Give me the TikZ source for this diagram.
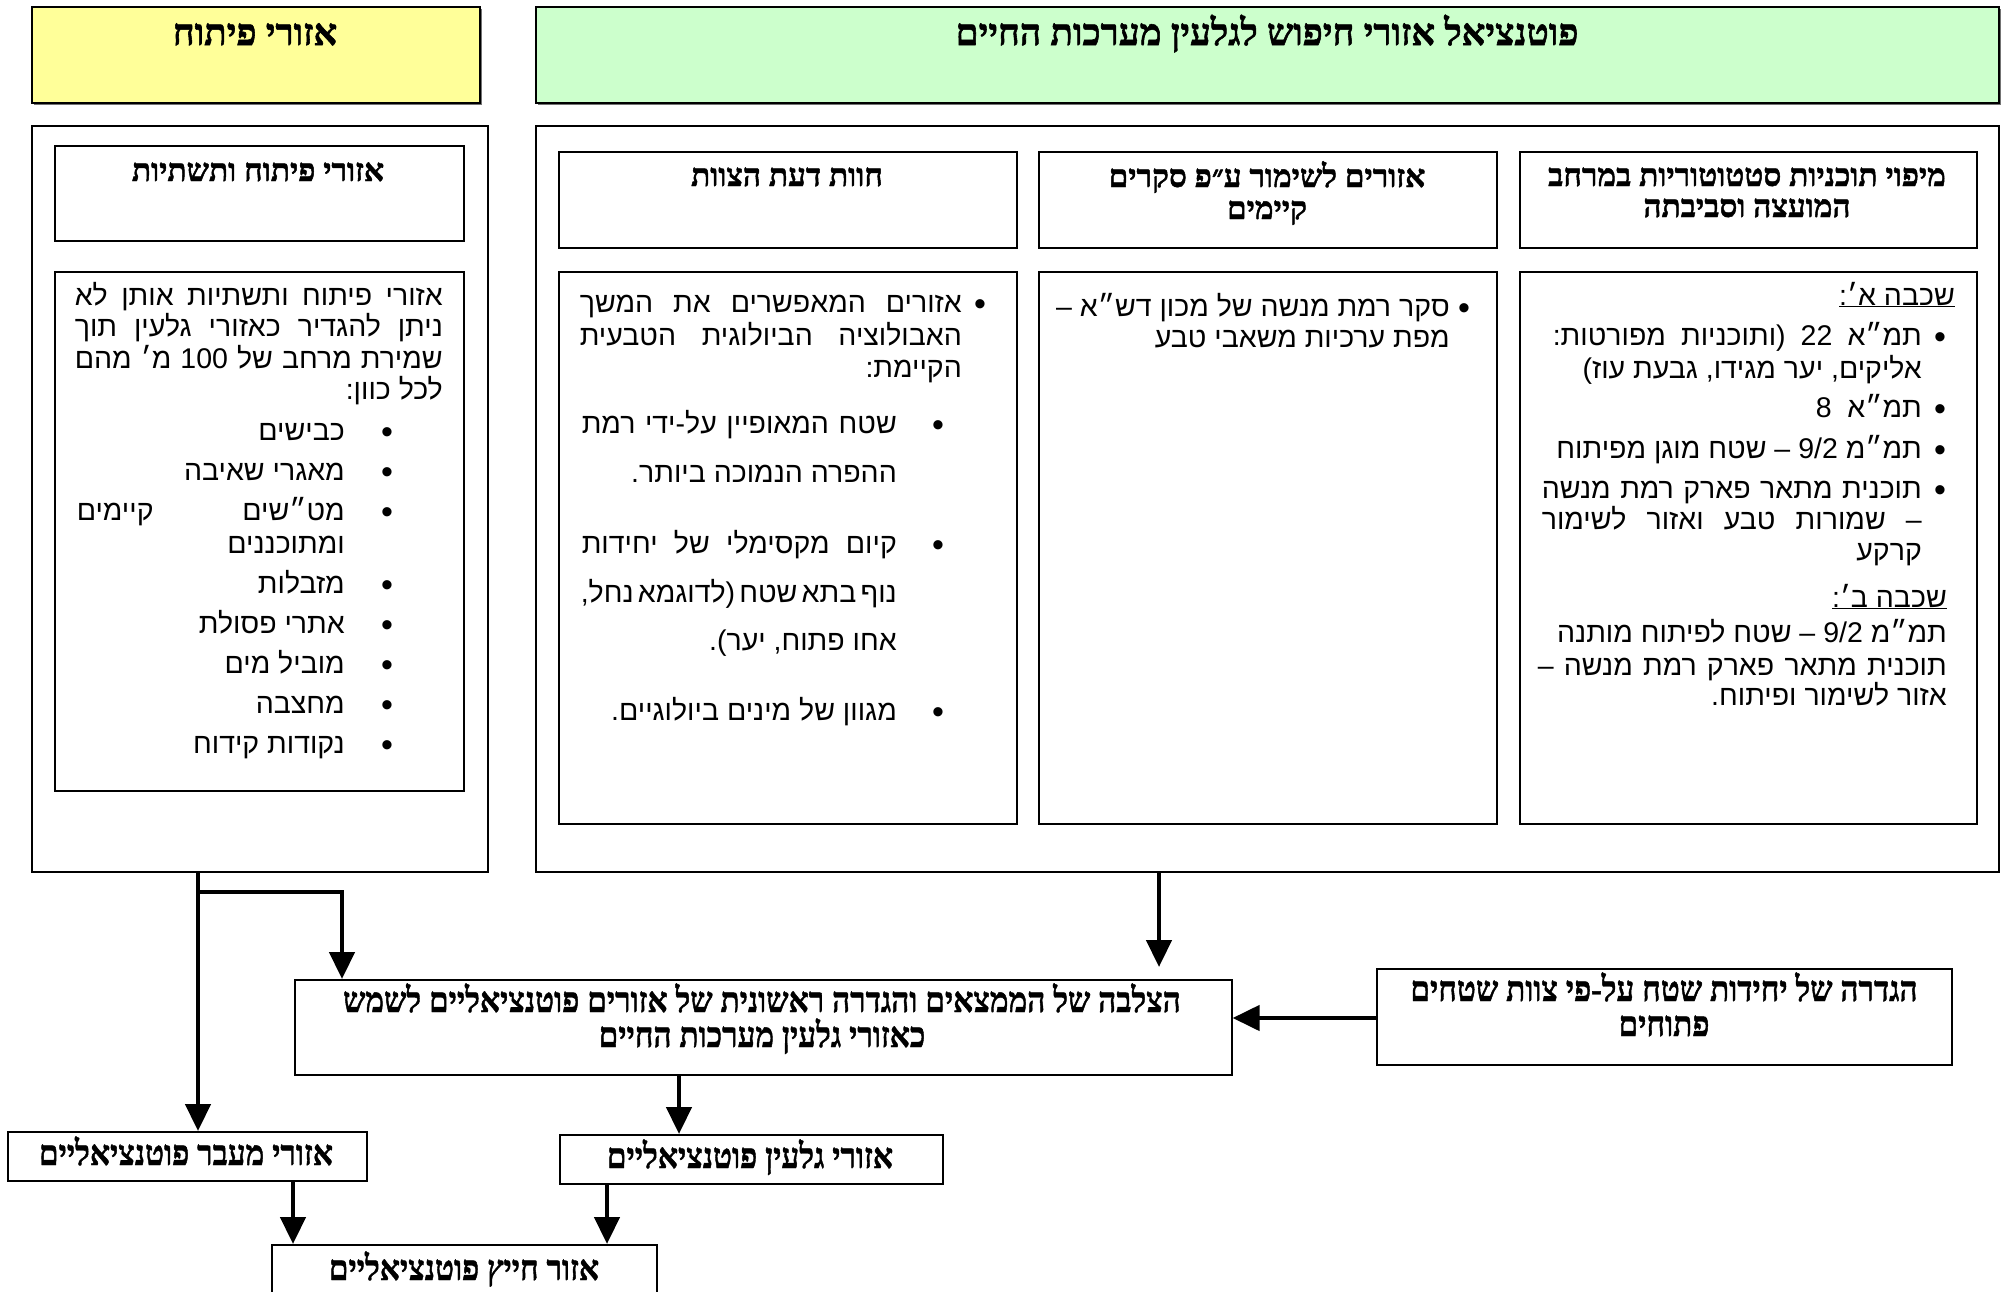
\documentclass[tikz,border=0pt]{standalone}
\usepackage{fontspec}
\usetikzlibrary{arrows.meta}
\TeXXeTstate=1
\newfontfamily\hs[Script=Hebrew]{Liberation Sans}
\newfontfamily\hsf[Script=Hebrew,FakeBold=1.5]{Liberation Serif}
\newfontfamily\hcf[Script=Hebrew,FakeStretch=0.9,FakeBold=1.2]{Liberation Serif}
\newcommand\bodyf{\hs\fontsize{28.5}{34}\selectfont}
\newcommand\bulf{\hs\fontsize{34}{40}\selectfont}
\newcommand\headf{\hsf\bfseries\fontsize{31.5}{37}\selectfont}
\newcommand\titf{\hsf\bfseries\fontsize{37}{44}\selectfont}
\newcommand\botf{\hcf\bfseries\fontsize{35}{40}\selectfont}
\definecolor{yelf}{HTML}{FFFF99}
\definecolor{grnf}{HTML}{CCFFCC}
\tikzset{
  bx/.style={draw, line width=1.6pt, inner sep=0pt, anchor=north west},
  shbx/.style={bx, fill=#1},
  tx/.style={inner sep=0pt, anchor=base east, font=\bodyf},
  bul/.style={inner sep=0pt, anchor=base, font=\bulf, yshift=-3pt},
  hd/.style={inner sep=0pt, anchor=base, font=\headf},
  ttl/.style={inner sep=0pt, anchor=base, font=\titf},
  bt/.style={inner sep=0pt, anchor=base, font=\botf},
  arr/.style={line width=4.5pt, -{Triangle[length=27pt,width=25pt]}},
}
\begin{document}
\begin{tikzpicture}[x=1pt,y=-1pt]
\useasboundingbox (0,0) rectangle (2006,1291);
\fill[white] (0,0) rectangle (2006,1291);
% shadows of the top boxes
\fill[black!55] (34,9) rectangle (482,105);
\fill[black!55] (538,9) rectangle (2001,105);
% top boxes
\node[shbx=yelf, minimum width=448pt, minimum height=96pt] (yel) at (31,6) {};
\node[shbx=grnf, minimum width=1463pt, minimum height=96pt] (grn) at (535,6) {};
\node[ttl] (yelt) at (255,45) {\beginR אזורי פיתוח\endR};
\node[ttl] (grnt) at (1267,45) {\beginR פוטנציאל אזורי חיפוש לגלעין מערכות החיים\endR};
% panels
\node[bx, minimum width=456pt, minimum height=746pt] (lp) at (31,125) {};
\node[bx, minimum width=1463pt, minimum height=746pt] (rp) at (535,125) {};
% left column
\node[bx, minimum width=409pt, minimum height=95pt] (lh) at (54,145) {};
\node[bx, minimum width=409pt, minimum height=519pt] (lc) at (54,271) {};
\node[hd] (lht) at (258,181) {\beginR אזורי פיתוח ותשתיות\endR};
\node[tx] (l1) at (443,305) {\hbox to 368pt{\beginR אזורי פיתוח ותשתיות אותן לא\endR}};
\node[tx] (l2) at (443,336) {\hbox to 368pt{\beginR ניתן להגדיר כאזורי גלעין תוך\endR}};
\node[tx] (l3) at (443,368) {\hbox to 368pt{\beginR שמירת מרחב של \beginL 100\endL{} מ׳ מהם\endR}};
\node[tx] (l4) at (443,399) {\beginR לכל כוון:\endR};
\node[tx] (l5) at (345,440) {\beginR כבישים\endR};
\node[tx] (l6) at (345,480) {\beginR מאגרי שאיבה\endR};
\node[tx] (l7) at (345,520) {\hbox to 268pt{\beginR מט״שים קיימים\endR}};
\node[tx] (l8) at (345,553) {\beginR ומתוכננים\endR};
\node[tx] (l9) at (345,593) {\beginR מזבלות\endR};
\node[tx] (l10) at (345,633) {\beginR אתרי פסולת\endR};
\node[tx] (l11) at (345,673) {\beginR מוביל מים\endR};
\node[tx] (l12) at (345,713) {\beginR מחצבה\endR};
\node[tx] (l13) at (345,753) {\beginR נקודות קידוח\endR};
\foreach \yy [count=\i] in {440,480,520,593,633,673,713,753}
  \node[bul] (lb\i) at (387,\yy) {•};
% right panel headers
\node[bx, minimum width=458pt, minimum height=96pt] (h1) at (558,151) {};
\node[bx, minimum width=458pt, minimum height=96pt] (h2) at (1038,151) {};
\node[bx, minimum width=457pt, minimum height=96pt] (h3) at (1519,151) {};
\node[hd] (h1t) at (787,186) {\beginR חוות דעת הצוות\endR};
\node[hd] (h2t1) at (1267,187) {\beginR אזורים לשימור ע״פ סקרים\endR};
\node[hd] (h2t2) at (1267,219) {\beginR קיימים\endR};
\node[hd] (h3t1) at (1747,186) {\beginR מיפוי תוכניות סטטוטוריות במרחב\endR};
\node[hd] (h3t2) at (1747,217) {\beginR המועצה וסביבתה\endR};
% right panel contents
\node[bx, minimum width=458pt, minimum height=552pt] (c1) at (558,271) {};
\node[bx, minimum width=458pt, minimum height=552pt] (c2) at (1038,271) {};
\node[bx, minimum width=457pt, minimum height=552pt] (c3) at (1519,271) {};
% column 1
\node[tx] (m1) at (962,312) {\hbox to 382pt{\beginR אזורים המאפשרים את המשך\endR}};
\node[tx] (m2) at (962,345) {\hbox to 382pt{\beginR האבולוציה הביולוגית הטבעית\endR}};
\node[tx] (m3) at (962,377) {\beginR הקיימת:\endR};
\node[tx] (m4) at (897,433) {\hbox to 315pt{\beginR שטח המאופיין על-ידי רמת\endR}};
\node[tx] (m5) at (897,482) {\beginR ההפרה הנמוכה ביותר.\endR};
\node[tx] (m6) at (897,553) {\hbox to 315pt{\beginR קיום מקסימלי של יחידות\endR}};
\node[tx] (m7) at (897,602) {\hbox to 316pt{\spaceskip=0.1em plus 1em\beginR נוף בתא שטח (לדוגמא נחל,\endR}};
\node[tx] (m8) at (897,650) {\beginR אחו פתוח, יער).\endR};
\node[tx] (m9) at (897,720) {\beginR מגוון של מינים ביולוגיים.\endR};
\node[bul] (mb1) at (980,312) {•};
\node[bul] (mb2) at (938,433) {•};
\node[bul] (mb3) at (938,553) {•};
\node[bul] (mb4) at (938,720) {•};
% column 2
\node[tx] (n1) at (1450,316) {\beginR סקר רמת מנשה של מכון דש״א –\endR};
\node[tx] (n2) at (1450,347) {\beginR מפת ערכיות משאבי טבע\endR};
\node[bul] (nb1) at (1464,316) {•};
% column 3
\node[tx] (r0) at (1955,305) {\underline{\beginR שכבה א׳:\endR}};
\node[tx] (r1) at (1922,345) {\hbox to 369pt{\beginR תמ״א \beginL 22\endL{} (ותוכניות מפורטות:\endR}};
\node[tx] (r2) at (1922,378) {\beginR אליקים, יער מגידו, גבעת עוז)\endR};
\node[tx] (r3) at (1922,417) {\beginR תמ״א\ \ \beginL 8\endL\endR};
\node[tx] (r4) at (1922,458) {\beginR תמ״מ \beginL 9/2\endL{} – שטח מוגן מפיתוח\endR};
\node[tx] (r5) at (1922,498) {\hbox to 380pt{\beginR תוכנית מתאר פארק רמת מנשה\endR}};
\node[tx] (r6) at (1922,529) {\hbox to 380pt{\beginR – שמורות טבע ואזור לשימור\endR}};
\node[tx] (r7) at (1922,560) {\beginR קרקע\endR};
\node[tx] (r8) at (1947,607) {\underline{\beginR שכבה ב׳:\endR}};
\node[tx] (r9) at (1947,642) {\beginR תמ״מ \beginL 9/2\endL{} – שטח לפיתוח מותנה\endR};
\node[tx] (r10) at (1947,675) {\hbox to 409pt{\beginR תוכנית מתאר פארק רמת מנשה –\endR}};
\node[tx] (r11) at (1947,705) {\beginR אזור לשימור ופיתוח.\endR};
\foreach \yy [count=\i] in {345,417,458,498}
  \node[bul] (rb\i) at (1940,\yy) {•};
% bottom boxes
\node[bx, minimum width=937pt, minimum height=95pt] (cross) at (294,979) {};
\node[bx, minimum width=575pt, minimum height=96pt] (defn) at (1376,968) {};
\node[bx, minimum width=359pt, minimum height=49pt] (mavar) at (7,1131) {};
\node[bx, minimum width=383pt, minimum height=49pt] (galin) at (559,1134) {};
\node[bx, minimum width=385pt, minimum height=80pt] (hayitz) at (271,1244) {};
\node[bt] (crt1) at (762,1012) {\beginR הצלבה של הממצאים והגדרה ראשונית של אזורים פוטנציאליים לשמש\endR};
\node[bt] (crt2) at (762,1047) {\beginR כאזורי גלעין מערכות החיים\endR};
\node[bt] (dft1) at (1664,1001) {\beginR הגדרה של יחידות שטח על-פי צוות שטחים\endR};
\node[bt] (dft2) at (1664,1036) {\beginR פתוחים\endR};
\node[bt] (mvt) at (186,1165) {\beginR אזורי מעבר פוטנציאליים\endR};
\node[bt] (glt) at (750,1168) {\beginR אזורי גלעין פוטנציאליים\endR};
\node[bt] (hyt) at (464,1280) {\beginR אזור חייץ פוטנציאליים\endR};
% connectors
\coordinate (xa) at (198,0);
\coordinate (xb) at (342,0);
\coordinate (xc) at (1159,0);
\coordinate (xd) at (679,0);
\coordinate (xe) at (293,0);
\coordinate (xf) at (607,0);
\coordinate (ybr) at (0,892);
\coordinate (yr) at (0,1018);
\coordinate (tipc) at (1159,967);
\draw[arr] (lp.south -| xa) -- (mavar.north -| xa);
\draw[arr] (ybr -| xa) -- (ybr -| xb) -- (cross.north -| xb);
\draw[arr] (rp.south -| xc) -- (tipc);
\draw[arr] (defn.west |- yr) -- (cross.east |- yr);
\draw[arr] (cross.south -| xd) -- (galin.north -| xd);
\draw[arr] (mavar.south -| xe) -- (hayitz.north -| xe);
\draw[arr] (galin.south -| xf) -- (hayitz.north -| xf);
\end{tikzpicture}
\end{document}
